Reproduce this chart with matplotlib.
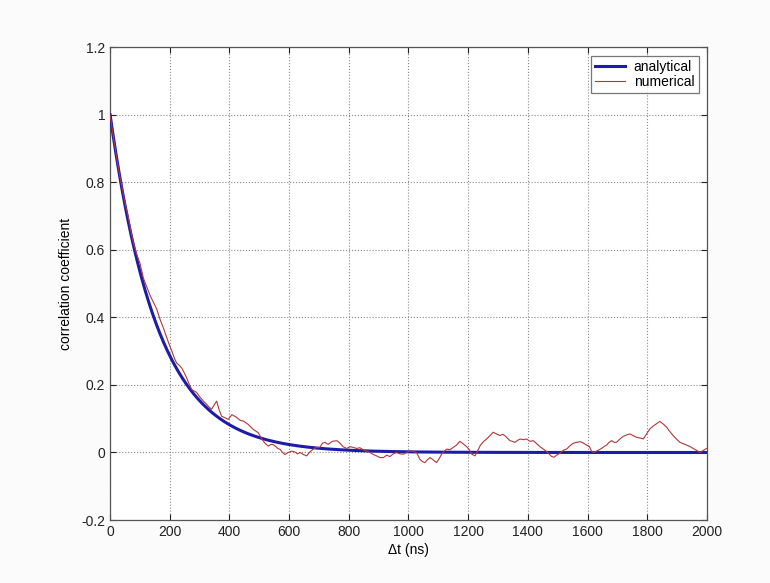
import numpy as np
import matplotlib
matplotlib.use("Agg")
import matplotlib.pyplot as plt

plt.rcParams['font.family'] = ['Liberation Sans', 'DejaVu Sans']

# decay constant of the analytical curve (ns)
tau = 160.0

# numerical correlation coefficient
t_num = [0, 10, 20, 30, 40, 50, 60, 70, 80, 90, 100, 112, 123, 134, 145, 156, 167, 178,
         190, 200, 207, 215, 223, 232, 240, 249, 257, 266, 274, 282, 290, 300, 313, 321,
         329, 340, 348, 357, 366, 374, 385, 396, 408, 416, 424, 436, 447, 455, 463, 472,
         480, 489, 497, 505, 514, 522, 530, 539, 547, 555, 562, 570, 578, 586, 597, 608,
         618, 628, 637, 648, 659, 670, 681, 692, 703, 712, 720, 731, 745, 760, 770, 781,
         793, 804, 815, 826, 837, 849, 860, 871, 882, 893, 905, 916, 927, 938, 949, 960,
         972, 983, 994, 1005, 1016, 1027, 1038, 1047, 1055, 1063, 1072, 1083, 1094, 1103,
         1111, 1120, 1128, 1139, 1150, 1161, 1172, 1183, 1195, 1204, 1212, 1223, 1232,
         1240, 1251, 1262, 1273, 1284, 1295, 1307, 1315, 1323, 1332, 1340, 1348, 1357,
         1366, 1374, 1385, 1396, 1407, 1418, 1430, 1441, 1452, 1463, 1472, 1480, 1488,
         1496, 1505, 1513, 1522, 1530, 1541, 1552, 1563, 1575, 1586, 1597, 1606, 1614,
         1622, 1630, 1639, 1647, 1656, 1664, 1672, 1681, 1690, 1697, 1709, 1720, 1731,
         1742, 1753, 1764, 1776, 1787, 1798, 1809, 1820, 1831, 1842, 1853, 1865, 1876,
         1887, 1898, 1910, 1921, 1932, 1943, 1954, 1966, 1977, 1988, 1999]
c_num = [1.0, 0.94, 0.885, 0.83, 0.785, 0.74, 0.70, 0.655, 0.615, 0.585, 0.56, 0.515,
         0.49, 0.465, 0.445, 0.425, 0.395, 0.37, 0.34, 0.315, 0.30, 0.28, 0.265, 0.258,
         0.25, 0.235, 0.22, 0.2, 0.186, 0.182, 0.178, 0.165, 0.152, 0.145, 0.137, 0.128,
         0.14, 0.152, 0.125, 0.107, 0.103, 0.098, 0.112, 0.108, 0.104, 0.095, 0.093,
         0.088, 0.083, 0.075, 0.068, 0.063, 0.058, 0.045, 0.033, 0.025, 0.019, 0.024,
         0.023, 0.018, 0.012, 0.009, 0.0, -0.006, 0.0, 0.004, 0.002, -0.004, 0.0,
         -0.006, -0.01, 0.002, 0.01, 0.015, 0.015, 0.028, 0.03, 0.024, 0.033, 0.035,
         0.028, 0.017, 0.012, 0.017, 0.015, 0.012, 0.014, 0.008, 0.004, 0.0, -0.006,
         -0.01, -0.015, -0.015, -0.008, -0.012, -0.004, 0.0, -0.004, -0.005, 0.0, 0.005,
         0.003, 0.0, -0.02, -0.027, -0.03, -0.022, -0.015, -0.022, -0.03, -0.018, -0.005,
         0.004, 0.01, 0.008, 0.015, 0.022, 0.033, 0.026, 0.017, 0.008, -0.005, -0.01,
         0.005, 0.02, 0.032, 0.04, 0.05, 0.06, 0.055, 0.05, 0.054, 0.05, 0.042, 0.035,
         0.033, 0.03, 0.036, 0.04, 0.038, 0.04, 0.033, 0.035, 0.026, 0.017, 0.01, 0.003,
         -0.005, -0.012, -0.014, -0.008, -0.004, 0.002, 0.008, 0.01, 0.02, 0.027, 0.03,
         0.032, 0.028, 0.022, 0.018, 0.003, 0.0, 0.004, 0.008, 0.012, 0.018, 0.022, 0.03,
         0.035, 0.03, 0.03, 0.04, 0.048, 0.052, 0.055, 0.05, 0.045, 0.043, 0.04, 0.055,
         0.07, 0.078, 0.085, 0.092, 0.085, 0.075, 0.062, 0.05, 0.04, 0.03, 0.026, 0.022,
         0.018, 0.012, 0.006, 0.0, 0.006, 0.012]

x_ticks = [0, 200, 400, 600, 800, 1000, 1200, 1400, 1600, 1800, 2000]
y_ticks = [-0.2, 0, 0.2, 0.4, 0.6, 0.8, 1, 1.2]

t_an = np.linspace(0, 2000, 801)
c_an = np.exp(-t_an / tau)

fig = plt.figure(figsize=(7.7, 5.83), dpi=100, facecolor='#fbfbfb')
ax = fig.add_axes([0.143, 0.108, 0.775, 0.811])
ax.set_facecolor('white')

ax.plot(t_an, c_an, color='#1c1ca8', lw=2.2, label='analytical', zorder=3)
ax.plot(t_num, c_num, color='#b03838', lw=0.8, label='numerical', zorder=4)

ax.set_xlim(0, 2000)
ax.set_ylim(-0.2, 1.2)
ax.set_xticks(x_ticks)
ax.set_yticks(y_ticks)
ax.set_yticklabels(['-0.2', '0', '0.2', '0.4', '0.6', '0.8', '1', '1.2'])
ax.tick_params(direction='in', length=4, labelsize=10, colors='#222222',
               top=True, right=True)
ax.grid(True, linestyle=':', color='#888888', lw=0.8)
for s in ax.spines.values():
    s.set_color('#555555')
    s.set_linewidth(0.9)

ax.set_xlabel('\u0394t (ns)', fontsize=10, labelpad=3)
ax.set_ylabel('correlation coefficient', fontsize=10, labelpad=6)

leg = ax.legend(loc='upper right', fontsize=10, frameon=True, fancybox=False,
                edgecolor='#555555', borderpad=0.3, handlelength=2.2,
                handletextpad=0.6, labelspacing=0.1, borderaxespad=0.6)
leg.get_frame().set_linewidth(0.9)

fig.savefig('out.png', dpi=100, facecolor=fig.get_facecolor())
